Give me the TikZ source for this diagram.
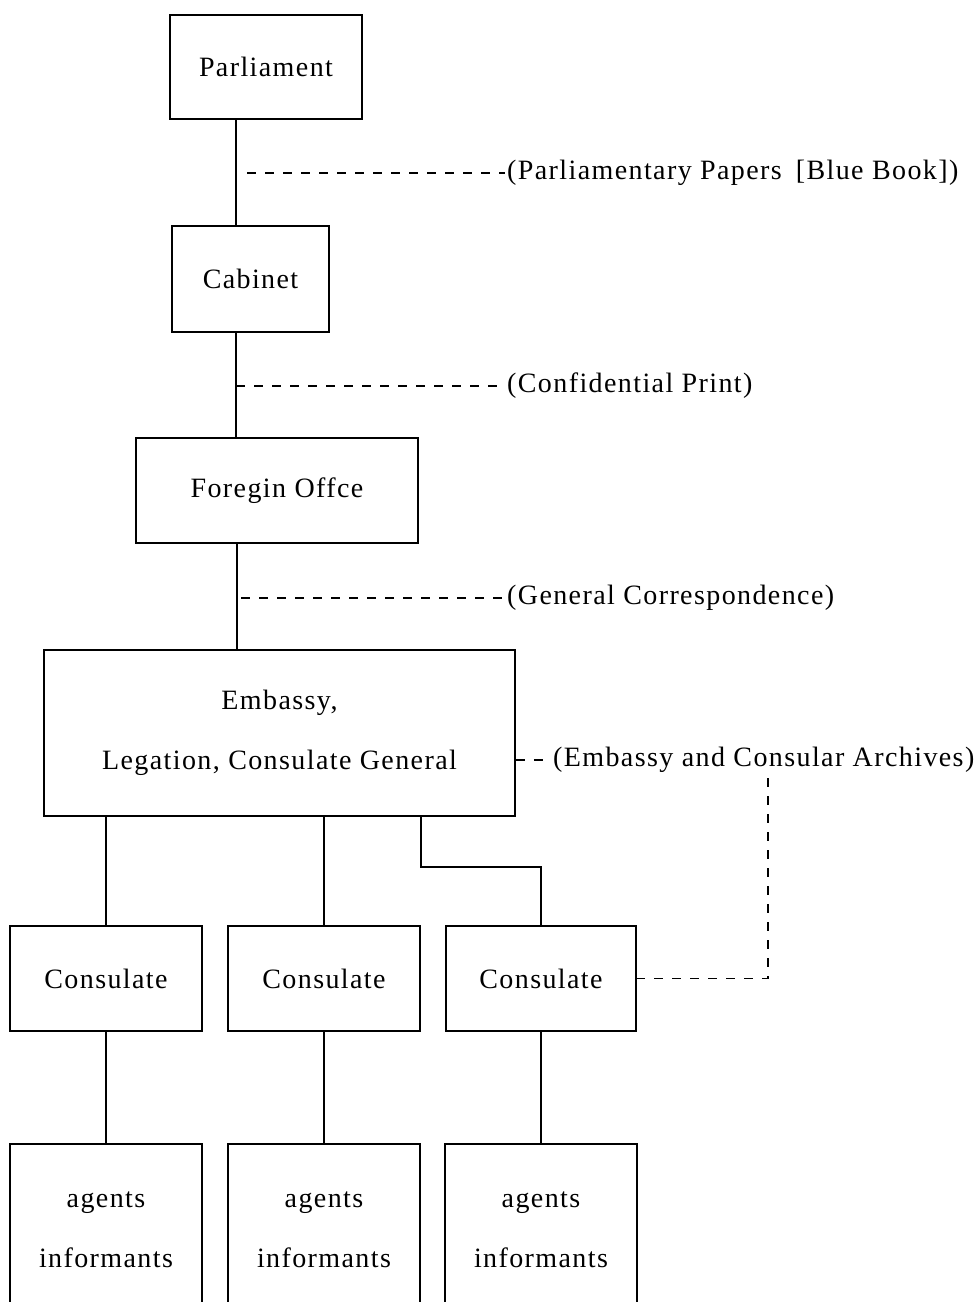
\documentclass[tikz,border=0pt]{standalone}
\usepackage{fontspec}
\setmainfont{Liberation Serif}[LetterSpace=5]
\usepackage{tikz}
\usetikzlibrary{calc}
\tikzstyle{orgbox} = [draw, line width=1.6pt, inner sep=0pt, align=center]
\tikzstyle{link}   = [line width=1.6pt]
\tikzstyle{paper}  = [line width=1.3pt, dash pattern=on 9pt off 9pt]

\begin{document}
\begin{tikzpicture}[
    x=1pt, y=-1pt,
    font=\fontsize{28}{30}\selectfont,
    series/.style={anchor=west, inner sep=2pt},
  ]
  \useasboundingbox (0,0) rectangle (977,1302);
  \clip (0,0) rectangle (977,1302);
  % the chain of offices
  \node[orgbox, minimum width=192pt, minimum height=104pt] (parl) at (266,67) {Parliament};
  \node[orgbox, minimum width=157pt, minimum height=106pt] (cab) at (250.5,279) {Cabinet};
  \node[orgbox, minimum width=282pt, minimum height=105pt] (fo) at (277,490.5) {Foregin Offce};
  \node[orgbox, minimum width=471pt, minimum height=166pt] (emb) at (279.5,733)
    {Embassy,\\[30pt]Legation, Consulate General};
  \node[orgbox, minimum width=192pt, minimum height=105pt] (con1) at (106,978.5) {Consulate};
  \node[orgbox, minimum width=192pt, minimum height=105pt] (con2) at (324,978.5) {Consulate};
  \node[orgbox, minimum width=190pt, minimum height=105pt] (con3) at (541,978.5) {Consulate};
  \foreach \i in {1,2,3}
    \node[orgbox, minimum width=192pt, minimum height=172pt, anchor=north] (ag\i) at (con\i.south |- 0,1143)
      {agents\\[30pt]informants};
  \coordinate (spine) at (236,0);
  \coordinate (spinelow) at (237,0);
  \coordinate (elbow) at (421,867);
  \coordinate (arch) at (768,778);
  \coordinate (ppstart) at (247,0);
  \coordinate (gcstart) at (241,0);
  \draw[link] (parl.south -| spine) -- (cab.north -| spine);
  \draw[link] (cab.south -| spine) -- (fo.north -| spine);
  \draw[link] (fo.south -| spinelow) -- (emb.north -| spinelow);
  \draw[link] (emb.south -| con1.north) -- (con1.north);
  \draw[link] (emb.south -| con2.north) -- (con2.north);
  \draw[link] (emb.south -| elbow) |- (elbow -| con3.north) -- (con3.north);
  \foreach \i in {1,2,3}
    \draw[link] (con\i.south) -- (ag\i.north);
  % the series of papers
  \node[series] (pp) at (505,173) {(Parliamentary Papers\hspace{0.5em}[Blue Book])};
  \node[series] (cp) at (505,386) {(Confidential Print)};
  \node[series] (gc) at (505,598) {(General Correspondence)};
  \node[series] (ea) at (551,760) {(Embassy and Consular Archives)};
  \draw[paper] (pp.west -| ppstart) -- (pp.west);
  \draw[paper] (cp.west -| spine) -- (cp.west);
  \draw[paper] (gc.west -| gcstart) -- (gc.west);
  \draw[paper] (emb.east |- ea.west) -- (ea.west);
  \draw[paper] (arch) |- (con3.east);
\end{tikzpicture}
\end{document}
